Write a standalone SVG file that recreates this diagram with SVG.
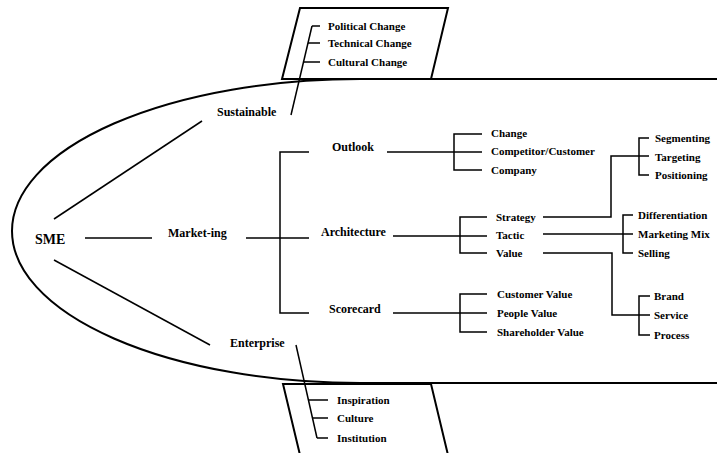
<svg xmlns="http://www.w3.org/2000/svg" width="717" height="453" viewBox="0 0 717 453">
<style>
text{font-family:"Liberation Serif","Times New Roman",serif;font-weight:bold;fill:#000}
.m{font-size:12px}
.s{font-size:11px}
.big{font-size:14px}
.ln{stroke:#000;stroke-width:1.5;fill:none}
.fr{stroke:#000;stroke-width:2;fill:none}
</style>
<rect width="717" height="453" fill="#fff"/>
<g id="frame">
<path class="fr" d="M717 79 L360 79 A348 152 0 0 0 360 383 L717 383"/>
<polygon class="fr" points="300,8 448,8 431,79 282,79"/>
<polygon class="fr" points="283,384 431,384 448,455 300,455"/>
</g>
<g id="connectors" class="ln">
<line x1="54" y1="219" x2="202" y2="121"/>
<line x1="85" y1="238" x2="152" y2="238"/>
<line x1="54" y1="260" x2="210" y2="345"/>
<line x1="291" y1="115" x2="312" y2="26"/>
<line x1="312" y1="26" x2="320" y2="26"/>
<line x1="308" y1="43" x2="320" y2="43"/>
<line x1="303.5" y1="62" x2="320" y2="62"/>
<line x1="296" y1="345" x2="317" y2="438"/>
<line x1="308.4" y1="400" x2="328" y2="400"/>
<line x1="312.5" y1="418" x2="328" y2="418"/>
<line x1="317" y1="438" x2="328" y2="438"/>
<line x1="246" y1="238" x2="309" y2="238"/>
<polyline points="309,152 280,152 280,313 309,313"/>
<line x1="387" y1="152" x2="482" y2="152"/>
<polyline points="482,134 454,134 454,170 482,170"/>
<line x1="393" y1="236" x2="487" y2="236"/>
<polyline points="487,217 460,217 460,253 487,253"/>
<line x1="393" y1="313" x2="487" y2="313"/>
<polyline points="487,294 460,294 460,332 487,332"/>
<polyline points="543,217 611,217 611,156 649,156"/>
<polyline points="649,138 639,138 639,175 649,175"/>
<line x1="543" y1="234" x2="633" y2="234"/>
<polyline points="633,215 623,215 623,253 633,253"/>
<polyline points="543,253 612,253 612,315 650,315"/>
<polyline points="650,296 639,296 639,335 650,335"/>
</g>
<g id="sme"><text class="big" x="35" y="244">SME</text></g>
<g id="sustainable"><text class="m" x="217" y="116">Sustainable</text></g>
<g id="marketing"><text class="m" x="168" y="237">Market-ing</text></g>
<g id="enterprise"><text class="m" x="230" y="347">Enterprise</text></g>
<g id="political"><text class="s" x="328" y="30">Political Change</text></g>
<g id="technical"><text class="s" x="328" y="47">Technical Change</text></g>
<g id="cultural"><text class="s" x="328" y="66">Cultural Change</text></g>
<g id="inspiration"><text class="s" x="337" y="404">Inspiration</text></g>
<g id="culture"><text class="s" x="337" y="422">Culture</text></g>
<g id="institution"><text class="s" x="337" y="442">Institution</text></g>
<g id="outlook"><text class="m" x="332" y="151">Outlook</text></g>
<g id="architecture"><text class="m" x="321" y="236">Architecture</text></g>
<g id="scorecard"><text class="m" x="329" y="313">Scorecard</text></g>
<g id="change"><text class="s" x="491" y="137">Change</text></g>
<g id="competitor"><text class="s" x="491" y="155">Competitor/Customer</text></g>
<g id="company"><text class="s" x="491" y="174">Company</text></g>
<g id="strategy"><text class="s" x="496" y="221">Strategy</text></g>
<g id="tactic"><text class="s" x="496" y="239">Tactic</text></g>
<g id="value"><text class="s" x="496" y="257">Value</text></g>
<g id="customervalue"><text class="s" x="497" y="298">Customer Value</text></g>
<g id="peoplevalue"><text class="s" x="497" y="317">People Value</text></g>
<g id="shareholdervalue"><text class="s" x="497" y="336">Shareholder Value</text></g>
<g id="segmenting"><text class="s" x="655" y="142">Segmenting</text></g>
<g id="targeting"><text class="s" x="655" y="161">Targeting</text></g>
<g id="positioning"><text class="s" x="655" y="179">Positioning</text></g>
<g id="differentiation"><text class="s" x="638" y="219">Differentiation</text></g>
<g id="marketingmix"><text class="s" x="638" y="238">Marketing Mix</text></g>
<g id="selling"><text class="s" x="638" y="257">Selling</text></g>
<g id="brand"><text class="s" x="654" y="300">Brand</text></g>
<g id="service"><text class="s" x="654" y="319">Service</text></g>
<g id="process"><text class="s" x="654" y="339">Process</text></g>
</svg>
